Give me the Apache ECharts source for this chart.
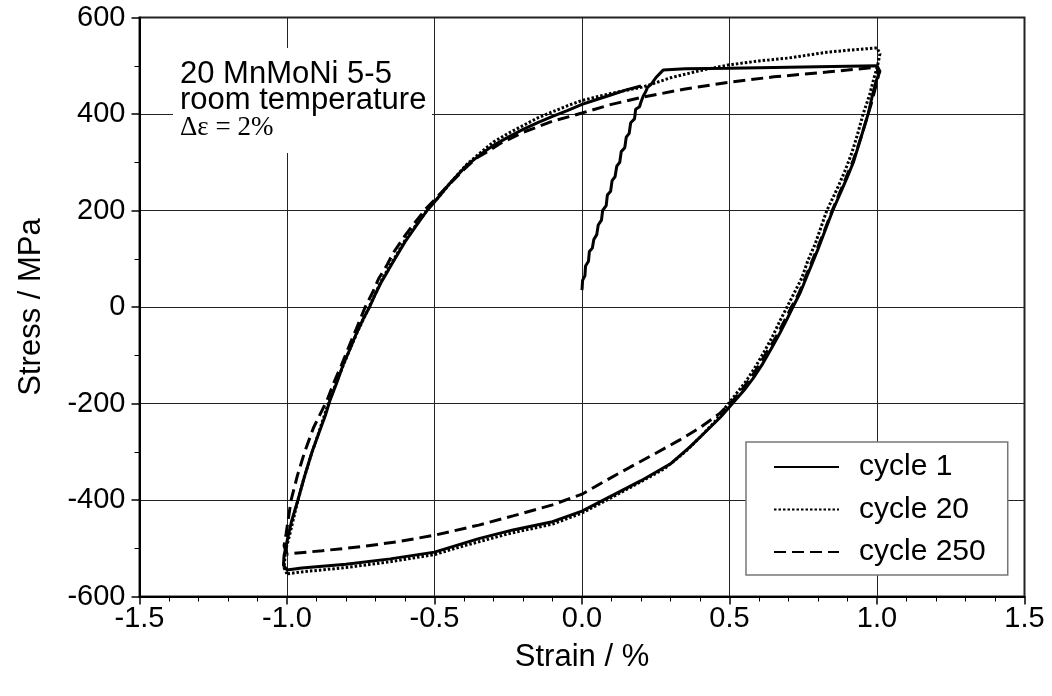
<!DOCTYPE html>
<html>
<head>
<meta charset="utf-8">
<script src="https://cdn.jsdelivr.net/npm/echarts@6/dist/echarts.min.js"></script>
<style>
html,body{margin:0;padding:0;background:#fff;}
#chart{width:1052px;height:696px;}
</style>
</head>
<body>
<div id="chart"></div>
<script>
// ---- data (strain %, stress MPa) ----
const seriesNames = ['cycle 1', 'cycle 20', 'cycle 250'];

const cycle1 = [
  [0.000, 35], [0.002, 55], [0.010, 65], [0.012, 85], [0.022, 95], [0.025, 115], [0.035, 122], [0.040, 140],
  [0.050, 150], [0.055, 170], [0.066, 180], [0.070, 200], [0.082, 210], [0.086, 232], [0.097, 240], [0.102, 262],
  [0.112, 270], [0.118, 292], [0.128, 300], [0.133, 322], [0.145, 330], [0.150, 352], [0.160, 360], [0.165, 382],
  [0.178, 390], [0.182, 410], [0.195, 415], [0.200, 425], [0.208, 438], [0.215, 445], [0.222, 455], [0.235, 462],
  [0.250, 475], [0.275, 491], [0.35, 494], [0.5, 495], [0.7, 497], [0.9, 499], [1.0, 500],
  [1.01, 488], [0.998, 470], [0.985, 440], [0.97, 400], [0.955, 370], [0.94, 340], [0.92, 300], [0.9, 270],
  [0.875, 235], [0.85, 200], [0.825, 160], [0.8, 120], [0.78, 90], [0.76, 60], [0.74, 30], [0.715, 0],
  [0.695, -25], [0.67, -55], [0.64, -88], [0.61, -120], [0.58, -148], [0.55, -172], [0.51, -200], [0.47, -228],
  [0.42, -258], [0.366, -290], [0.3, -325], [0.2, -360], [0.105, -390], [0, -423], [-0.1, -445], [-0.234, -462],
  [-0.35, -480], [-0.5, -508], [-0.65, -522], [-0.8, -533], [-0.95, -541], [-1.0, -545],
  [-1.012, -535], [-1.01, -515], [-0.998, -480], [-0.985, -445], [-0.963, -400], [-0.94, -350], [-0.915, -300],
  [-0.89, -258], [-0.87, -225], [-0.854, -193], [-0.83, -155], [-0.81, -120], [-0.785, -85], [-0.765, -55],
  [-0.742, -25], [-0.72, 0], [-0.7, 27], [-0.68, 52], [-0.655, 78], [-0.634, 100], [-0.6, 135], [-0.56, 170],
  [-0.525, 200], [-0.49, 225], [-0.45, 255], [-0.39, 294], [-0.34, 318], [-0.3, 335], [-0.25, 352], [-0.2, 368],
  [-0.15, 382], [-0.1, 395], [-0.05, 407], [0, 420], [0.05, 430], [0.1, 440], [0.15, 450], [0.2, 458]
];

const cycle20 = [
  [-1.0, -553], [-1.01, -540], [-1.005, -505], [-0.99, -470], [-0.967, -410], [-0.945, -360], [-0.92, -310],
  [-0.895, -265], [-0.86, -200], [-0.835, -160], [-0.81, -122], [-0.785, -85], [-0.76, -50], [-0.72, 2],
  [-0.68, 55], [-0.635, 102], [-0.6, 138], [-0.56, 172], [-0.52, 205], [-0.48, 232], [-0.44, 262], [-0.39, 296],
  [-0.34, 322], [-0.3, 342], [-0.25, 360], [-0.2, 376], [-0.15, 392], [-0.098, 405], [-0.05, 417], [0, 428],
  [0.1, 443], [0.207, 456], [0.3, 475], [0.4, 490], [0.5, 502], [0.6, 510], [0.7, 516], [0.83, 528], [0.9, 532],
  [1.0, 537],
  [1.01, 525], [1.002, 500], [0.99, 475], [0.975, 440], [0.953, 400], [0.935, 360], [0.915, 320], [0.89, 280],
  [0.865, 245], [0.83, 200], [0.81, 165], [0.79, 130], [0.765, 95], [0.745, 60], [0.72, 30], [0.695, 0],
  [0.67, -30], [0.645, -62], [0.62, -90], [0.59, -122], [0.555, -155], [0.52, -182], [0.49, -205], [0.45, -238],
  [0.4, -270], [0.35, -300], [0.28, -335], [0.2, -362], [0.1, -395], [0, -427], [-0.1, -450], [-0.25, -470],
  [-0.4, -495], [-0.5, -513], [-0.65, -528], [-0.8, -540], [-0.95, -549], [-1.0, -553]
];

const cycle250 = [
  [-1.0, -512], [-1.01, -495], [-1.003, -470], [-0.986, -400], [-0.965, -350], [-0.94, -300], [-0.91, -250],
  [-0.864, -193], [-0.84, -155], [-0.815, -120], [-0.79, -82], [-0.765, -45], [-0.735, 0], [-0.71, 30],
  [-0.69, 58], [-0.66, 88], [-0.64, 112], [-0.6, 148], [-0.56, 180], [-0.53, 203], [-0.5, 222], [-0.46, 248],
  [-0.4, 285], [-0.36, 308], [-0.32, 322], [-0.28, 338], [-0.2, 362], [-0.1, 385], [0, 402], [0.1, 420],
  [0.207, 435], [0.35, 452], [0.5, 466], [0.65, 477], [0.83, 487], [0.9, 491], [1.0, 497],
  [1.005, 480], [0.995, 455], [0.98, 420], [0.965, 390], [0.945, 350], [0.92, 305], [0.895, 268], [0.87, 232],
  [0.845, 195], [0.82, 155], [0.795, 118], [0.775, 88], [0.755, 58], [0.735, 28], [0.71, 0], [0.685, -30],
  [0.655, -65], [0.62, -100], [0.585, -135], [0.55, -165], [0.51, -195], [0.468, -220], [0.4, -250],
  [0.33, -276], [0.25, -303], [0.163, -332], [0.08, -360], [0, -388], [-0.1, -410], [-0.234, -433],
  [-0.35, -452], [-0.5, -473], [-0.62, -486], [-0.75, -497], [-0.88, -505], [-1.0, -512]
];

const xTicks = { min: -1.5, max: 1.5, interval: 0.5 };
const yTicks = { min: -600, max: 600, interval: 200 };
const annotationLines = ['20 MnMoNi 5-5', 'room temperature'];
const annotationFormula = 'Δε = 2%';

// ---- chart ----
const FONT = '"Liberation Sans", Arial, Helvetica, sans-serif';
const chart = echarts.init(document.getElementById('chart'));

const option = {
  backgroundColor: '#fff',
  animation: false,
  textStyle: { fontFamily: FONT, color: '#000' },
  grid: {
    left: 139.5, right: 27.5, top: 17.5, bottom: 99.5,
    show: true, borderColor: '#222', borderWidth: 2, backgroundColor: 'transparent',
    containLabel: false
  },
  xAxis: {
    type: 'value', min: xTicks.min, max: xTicks.max, interval: xTicks.interval,
    name: 'Strain / %', nameLocation: 'middle', nameGap: 45,
    nameTextStyle: { fontSize: 31, color: '#000', fontFamily: FONT },
    axisLine: { show: true, onZero: false, lineStyle: { color: '#000', width: 2 } },
    axisTick: { show: true, inside: false, length: 8, lineStyle: { color: '#000', width: 1.5 } },
    minorTick: { show: true, splitNumber: 5, length: 5, lineStyle: { color: '#000', width: 1 } },
    axisLabel: { fontSize: 29, color: '#000', margin: 8, fontFamily: FONT,
      formatter: v => v.toFixed(1) },
    splitLine: { show: true, lineStyle: { color: '#222', width: 1 } }
  },
  yAxis: {
    type: 'value', min: yTicks.min, max: yTicks.max, interval: yTicks.interval,
    name: 'Stress / MPa', nameLocation: 'middle', nameGap: 93, nameRotate: 90,
    nameTextStyle: { fontSize: 31, color: '#000', fontFamily: FONT },
    axisLine: { show: true, onZero: false, lineStyle: { color: '#000', width: 2 } },
    axisTick: { show: true, inside: false, length: 8, lineStyle: { color: '#000', width: 1.5 } },
    minorTick: { show: true, splitNumber: 2, length: 5, lineStyle: { color: '#000', width: 1 } },
    axisLabel: { fontSize: 29, color: '#000', margin: 14, fontFamily: FONT },
    splitLine: { show: true, lineStyle: { color: '#222', width: 1 } }
  },
  legend: {
    orient: 'vertical', left: 746, top: 442,
    backgroundColor: '#fff', borderColor: '#777', borderWidth: 1.5,
    padding: [10, 22, 8, 27],
    itemWidth: 65, itemHeight: 20, itemGap: 12.5,
    itemStyle: { color: 'rgba(0,0,0,0)', borderColor: 'rgba(0,0,0,0)', borderWidth: 0, opacity: 0 },
    textStyle: { fontSize: 30, lineHeight: 30, color: '#000', fontFamily: FONT, padding: [0, 0, 0, 15] },
    data: seriesNames, z: 20
  },
  graphic: [
    { type: 'rect', shape: { x: 173, y: 48, width: 259, height: 105 }, style: { fill: '#fff' }, z: 10 },
    { type: 'text', x: 180, y: 74, z: 11,
      style: { text: annotationLines[0], font: '31px ' + FONT, fill: '#000', verticalAlign: 'middle' } },
    { type: 'text', x: 180, y: 100, z: 11,
      style: { text: annotationLines[1], font: '31px ' + FONT, fill: '#000', verticalAlign: 'middle' } },
    { type: 'text', x: 180, y: 128, z: 11,
      style: { text: annotationFormula, font: '27px "Liberation Serif", "Times New Roman", serif', fill: '#000', verticalAlign: 'middle' } }
  ],
  series: [
    { name: seriesNames[0], type: 'line', data: cycle1, symbol: 'none', showSymbol: false,
      lineStyle: { color: '#000', width: 3, type: 'solid' }, itemStyle: { color: '#000' }, z: 3 },
    { name: seriesNames[1], type: 'line', data: cycle20, symbol: 'none', showSymbol: false,
      lineStyle: { color: '#000', width: 3, type: [2.5, 2] }, itemStyle: { color: '#000' }, z: 3 },
    { name: seriesNames[2], type: 'line', data: cycle250, symbol: 'none', showSymbol: false,
      lineStyle: { color: '#000', width: 3, type: [12, 6] }, itemStyle: { color: '#000' }, z: 3 }
  ]
};
chart.setOption(option);
</script>
</body>
</html>
